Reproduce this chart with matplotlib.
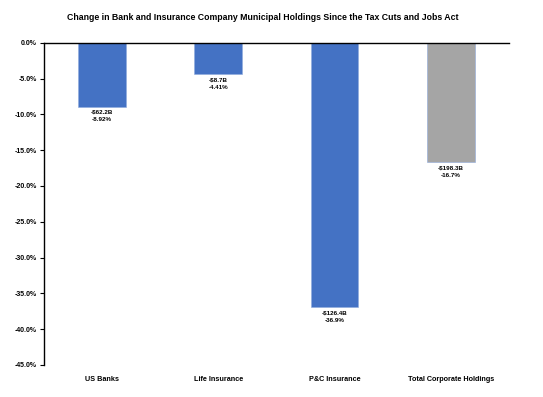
import matplotlib.pyplot as plt
from matplotlib.ticker import FuncFormatter

categories = ["US Banks", "Life Insurance", "P&C Insurance", "Total Corporate Holdings"]
pct_change = [-8.92, -4.41, -36.9, -16.7]
dollar_labels = ["-$62.2B", "-$8.7B", "-$126.4B", "-$198.3B"]
pct_labels = ["-8.92%", "-4.41%", "-36.9%", "-16.7%"]
colors = ["#4472C4", "#4472C4", "#4472C4", "#A5A5A5"]

plt.rcParams["font.family"] = ["Liberation Sans Narrow", "Liberation Sans", "DejaVu Sans"]

fig = plt.figure(figsize=(5.43, 3.97), dpi=100)
ax = fig.add_axes([0.081, 0.081, 0.856, 0.811])

x = range(len(categories))
ax.bar(x, pct_change, width=0.41, color=colors, edgecolor="#8FAADC", linewidth=0.4)

# two-line label under each bar: dollar change and percent change
for xi, v, d, p in zip(x, pct_change, dollar_labels, pct_labels):
    ax.text(xi, v - 0.45, f"{d}\n{p}", ha="center", va="top", fontsize=4.5,
            fontweight="bold", linespacing=1.6)

ax.set_xlim(-0.5, 3.5)
ax.set_ylim(-45, 0)
ax.set_yticks([-45, -40, -35, -30, -25, -20, -15, -10, -5, 0])
ax.yaxis.set_major_formatter(FuncFormatter(lambda v, _: f"{v:.1f}%"))
ax.set_xticks(list(x))
ax.set_xticklabels(categories)

for lbl in ax.get_yticklabels():
    lbl.set_fontsize(5)
    lbl.set_fontweight("bold")
for lbl in ax.get_xticklabels():
    lbl.set_fontsize(5.2)
    lbl.set_fontweight("bold")

ax.tick_params(axis="y", length=3, width=0.8, pad=2)
ax.tick_params(axis="x", length=0, pad=8)
ax.spines["right"].set_visible(False)
ax.spines["bottom"].set_visible(False)
ax.spines["top"].set_linewidth(1.0)
ax.spines["left"].set_linewidth(1.0)

fig.text(0.483, 0.955, "Change in Bank and Insurance Company Municipal Holdings Since the Tax Cuts and Jobs Act",
         ha="center", va="center", fontsize=6.3, fontweight="bold")

fig.savefig("out.png", dpi=100)
